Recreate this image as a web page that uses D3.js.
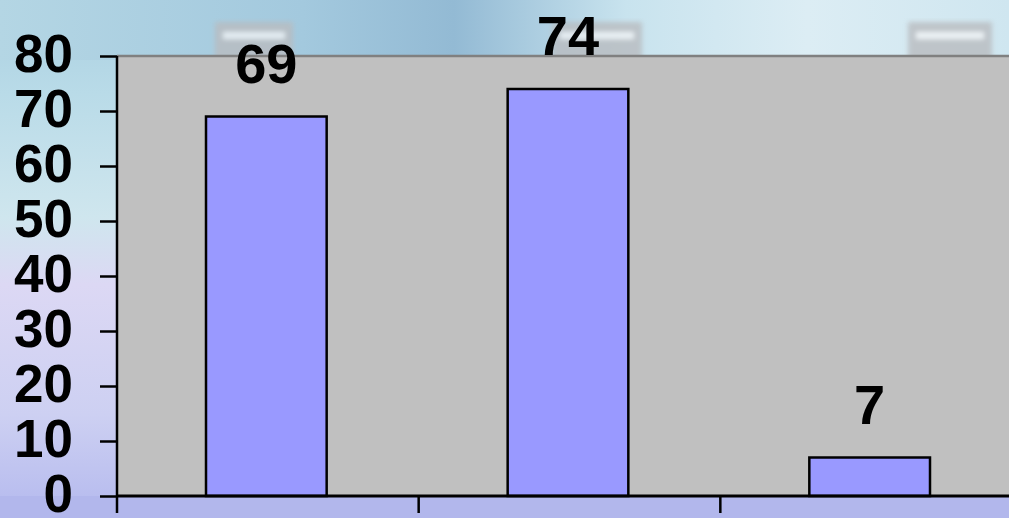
<!DOCTYPE html>
<html>
<head>
<meta charset="utf-8">
<script src="https://cdn.jsdelivr.net/npm/d3@7"></script>
<style>
  html, body { margin: 0; padding: 0; overflow: hidden; }
  svg { display: block; }
  text { font-family: "Liberation Sans", Arial, sans-serif; font-weight: bold; fill: #000; }
</style>
</head>
<body>
<svg id="chart" width="1009" height="518"></svg>
<script>
// Chart data
const categories = ["A", "B", "C"];
const values = [69, 74, 7];
const yTicks = [0, 10, 20, 30, 40, 50, 60, 70, 80];

const W = 1009, H = 518;
const plot = { left: 117, top: 56, right: 1022, bottom: 496 };

const svg = d3.select("#chart");
const defs = svg.append("defs");

// Backdrop: soft blue / lavender wash
const vg = defs.append("linearGradient").attr("id", "bgV")
  .attr("x1", 0).attr("y1", 0).attr("x2", 0).attr("y2", 1);
[[0, "#a9cfe0"], [0.18, "#b9dbe8"], [0.42, "#cfe6ee"], [0.55, "#dcd8f4"],
 [0.8, "#cdd0f2"], [1, "#b4b9ee"]].forEach(([o, c]) =>
  vg.append("stop").attr("offset", o).attr("stop-color", c));

const hg = defs.append("linearGradient").attr("id", "bgTop")
  .attr("x1", 0).attr("y1", 0).attr("x2", 1).attr("y2", 0);
[[0, "#b4d6e4"], [0.3, "#a3c9de"], [0.45, "#93bad4"], [0.62, "#c8e3ee"],
 [0.8, "#dcedf4"], [1, "#cfe6f0"]].forEach(([o, c]) =>
  hg.append("stop").attr("offset", o).attr("stop-color", c));

defs.append("filter").attr("id", "soft")
  .append("feGaussianBlur").attr("stdDeviation", 2.5);

svg.append("rect").attr("width", W).attr("height", H).attr("fill", "url(#bgV)");
svg.append("rect").attr("width", W).attr("height", 60).attr("fill", "url(#bgTop)");
svg.append("rect").attr("y", 496).attr("width", W).attr("height", 22)
  .attr("fill", "#b2b7ec");

// Grey fixtures peeking above the plot area
const deco = svg.append("g").attr("filter", "url(#soft)").attr("opacity", 0.8);
[[215, 78], [552, 90], [908, 84]].forEach(([x, w]) => {
  deco.append("rect").attr("x", x).attr("y", 22).attr("width", w).attr("height", 40)
    .attr("fill", "#b9bcc0");
  deco.append("rect").attr("x", x + 8).attr("y", 32).attr("width", w - 16).attr("height", 7)
    .attr("fill", "#f4f6f8");
});

// Scales
const xb = d3.scaleBand().domain(categories).range([plot.left, plot.right]);
const y = d3.scaleLinear().domain([0, 80]).range([plot.bottom, plot.top]);

// Plot area
svg.append("rect")
  .attr("x", plot.left).attr("y", plot.top)
  .attr("width", plot.right - plot.left).attr("height", plot.bottom - plot.top)
  .attr("fill", "#c0c0c0");
svg.append("line")
  .attr("x1", plot.left).attr("x2", plot.right)
  .attr("y1", plot.top).attr("y2", plot.top)
  .attr("stroke", "#808080").attr("stroke-width", 2.5);

// Bars (gap width 150% of bar width)
const bw = xb.bandwidth() / 2.5;
const cx = c => xb(c) + xb.bandwidth() / 2 - 1.5;
svg.append("g").selectAll("rect").data(values).join("rect")
  .attr("x", (d, i) => cx(categories[i]) - bw / 2)
  .attr("y", d => y(d))
  .attr("width", bw)
  .attr("height", d => y(0) - y(d))
  .attr("fill", "#9999ff")
  .attr("stroke", "#000").attr("stroke-width", 2.5);

// Value labels
svg.append("g").selectAll("text").data(values).join("text")
  .attr("x", (d, i) => cx(categories[i]))
  .attr("y", d => y(d) - 34)
  .attr("text-anchor", "middle")
  .attr("font-size", 56)
  .text(d => d);

// Y axis
const yAxis = svg.append("g").attr("transform", `translate(${plot.left},0)`)
  .call(d3.axisLeft(y).tickValues(yTicks).tickSize(17).tickPadding(27).tickSizeOuter(0));
yAxis.select(".domain").remove();
yAxis.selectAll(".tick line").attr("stroke", "#000").attr("stroke-width", 2.5);
yAxis.selectAll(".tick text")
  .attr("font-size", 53).attr("font-weight", "bold")
  .attr("font-family", "'Liberation Sans', Arial, sans-serif")
  .attr("dy", "0.3em").attr("fill", "#000");
svg.append("line")
  .attr("x1", plot.left).attr("x2", plot.left)
  .attr("y1", plot.top).attr("y2", 513)
  .attr("stroke", "#000").attr("stroke-width", 2.5);

// X axis with category boundary ticks
const xAxis = svg.append("g").attr("transform", `translate(0,${plot.bottom})`);
xAxis.append("line")
  .attr("x1", plot.left).attr("x2", plot.right)
  .attr("stroke", "#000").attr("stroke-width", 3);
xAxis.selectAll("line.tk").data(categories.slice(1)).join("line")
  .attr("class", "tk")
  .attr("x1", d => xb(d)).attr("x2", d => xb(d))
  .attr("y1", 0).attr("y2", 17)
  .attr("stroke", "#000").attr("stroke-width", 2.5);
</script>
</body>
</html>
